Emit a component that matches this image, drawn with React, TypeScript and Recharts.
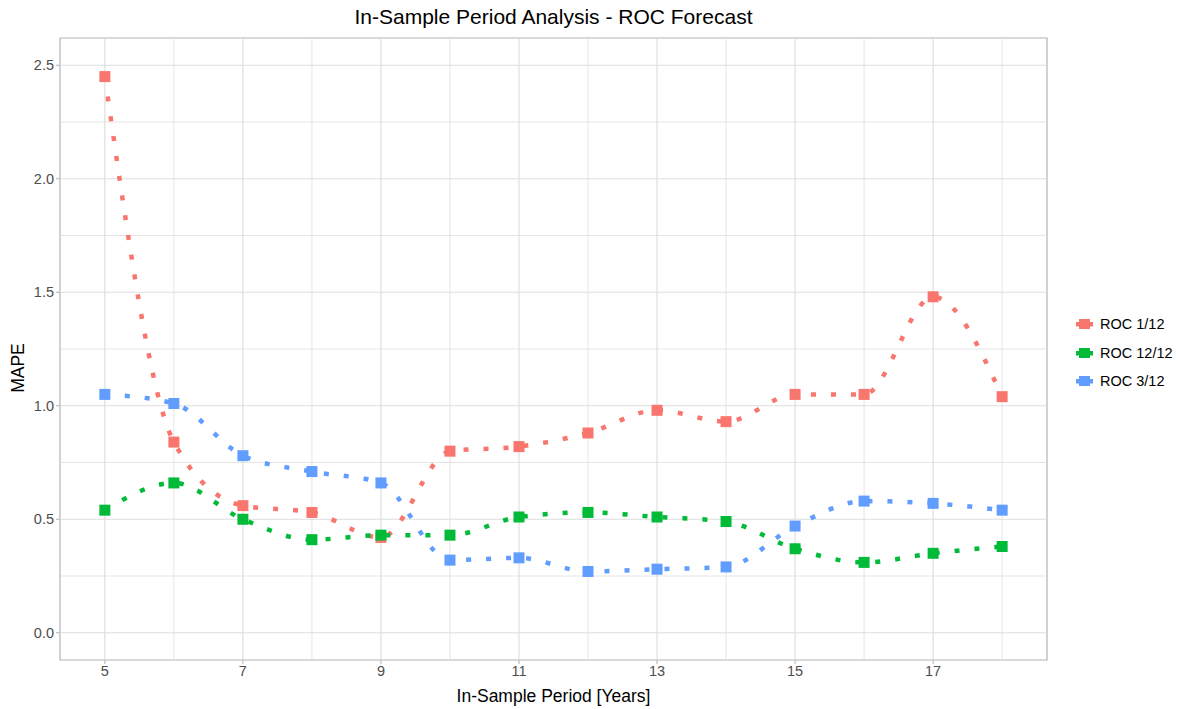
import React from 'react';
import { LineChart, Line, XAxis, YAxis, ReferenceLine, ReferenceArea } from 'recharts';

document.body.style.margin = '0';

const years = [5, 6, 7, 8, 9, 10, 11, 12, 13, 14, 15, 16, 17, 18];
const roc1 = [2.45, 0.84, 0.56, 0.53, 0.42, 0.8, 0.82, 0.88, 0.98, 0.93, 1.05, 1.05, 1.48, 1.04];
const roc12 = [0.54, 0.66, 0.5, 0.41, 0.43, 0.43, 0.51, 0.53, 0.51, 0.49, 0.37, 0.31, 0.35, 0.38];
const roc3 = [1.05, 1.01, 0.78, 0.71, 0.66, 0.32, 0.33, 0.27, 0.28, 0.29, 0.47, 0.58, 0.57, 0.54];

const xTicks = [5, 7, 9, 11, 13, 15, 17];
const xGrid = [5, 6, 7, 8, 9, 10, 11, 12, 13, 14, 15, 16, 17, 18];
const yTicks = [0, 0.5, 1, 1.5, 2, 2.5];
const yGrid = [0, 0.25, 0.5, 0.75, 1, 1.25, 1.5, 1.75, 2, 2.25, 2.5];

const series = [
  { key: 'roc1', name: 'ROC 1/12', color: '#F8766D' },
  { key: 'roc12', name: 'ROC 12/12', color: '#00BA38' },
  { key: 'roc3', name: 'ROC 3/12', color: '#619CFF' },
];

const data = years.map((y, i) => ({ year: y, roc1: roc1[i], roc12: roc12[i], roc3: roc3[i] }));

const X_DOMAIN: [number, number] = [4.35, 18.65];
const Y_DOMAIN: [number, number] = [-0.12, 2.62];
const FONT = '"Liberation Sans", Arial, sans-serif';

const SquareDot = (color: string) => (props: any) => {
  const { cx, cy, index } = props;
  if (cx == null || cy == null) return <g key={index} />;
  return <rect key={index} x={cx - 5.5} y={cy - 5.5} width={11} height={11} fill={color} />;
};

export default function App() {
  return (
    <div style={{ position: 'relative', width: 1182, height: 709, background: '#fff', fontFamily: FONT }}>
      <div style={{ position: 'absolute', left: 60, width: 987, top: 5, textAlign: 'center', fontSize: 21, color: '#000' }}>
        In-Sample Period Analysis - ROC Forecast
      </div>
      <div style={{ position: 'absolute', left: 60, width: 987, top: 686, textAlign: 'center', fontSize: 17.5, color: '#000' }}>
        In-Sample Period [Years]
      </div>
      <div
        style={{
          position: 'absolute',
          left: 18,
          top: 368,
          transform: 'translate(-50%, -50%) rotate(-90deg)',
          fontSize: 17.5,
          color: '#000',
          whiteSpace: 'nowrap',
        }}
      >
        MAPE
      </div>

      <LineChart
        width={1182}
        height={709}
        data={data}
        margin={{ top: 38, right: 135, bottom: 19, left: 10 }}
        style={{ position: 'absolute', left: 0, top: 0 }}
      >
        <XAxis
          dataKey="year"
          type="number"
          domain={X_DOMAIN}
          ticks={xTicks}
          allowDataOverflow
          height={30}
          axisLine={false}
          tickLine={{ stroke: '#b3b3b3' }}
          tickSize={4}
          tick={{ fill: '#4d4d4d', fontSize: 14.5, fontFamily: FONT }}
        />
        <YAxis
          type="number"
          domain={Y_DOMAIN}
          ticks={yTicks}
          allowDataOverflow
          width={50}
          axisLine={false}
          tickLine={{ stroke: '#b3b3b3' }}
          tickSize={4}
          tickFormatter={(v: number) => v.toFixed(1)}
          tick={{ fill: '#4d4d4d', fontSize: 14.5, fontFamily: FONT }}
        />
        {yGrid.map((v) => (
          <ReferenceLine key={'h' + v} y={v} stroke="#dedede" strokeWidth={v * 2 % 1 === 0 ? 1.2 : 0.8} />
        ))}
        {xGrid.map((v) => (
          <ReferenceLine key={'v' + v} x={v} stroke="#dedede" strokeWidth={v % 2 === 1 ? 1.2 : 0.8} />
        ))}
        <ReferenceArea
          x1={X_DOMAIN[0]}
          x2={X_DOMAIN[1]}
          y1={Y_DOMAIN[0]}
          y2={Y_DOMAIN[1]}
          fill="none"
          fillOpacity={0}
          stroke="#b3b3b3"
          strokeWidth={1.2}
        />
        {series.map((s) => (
          <Line
            key={s.key}
            dataKey={s.key}
            name={s.name}
            type="monotone"
            stroke={s.color}
            strokeWidth={4.5}
            strokeDasharray="5 15"
            dot={SquareDot(s.color)}
            activeDot={false}
            isAnimationActive={false}
          />
        ))}
      </LineChart>

      <div style={{ position: 'absolute', left: 1074, top: 310 }}>
        {series.map((s) => (
          <div key={s.key} style={{ display: 'flex', alignItems: 'center', height: 28.5 }}>
            <svg width={20} height={12}>
              <rect x={5} y={1} width={11} height={10} fill={s.color} />
              <rect x={2} y={4} width={17} height={4.5} fill={s.color} />
            </svg>
            <span style={{ marginLeft: 6, fontSize: 14.5, color: '#000' }}>{s.name}</span>
          </div>
        ))}
      </div>
    </div>
  );
}
